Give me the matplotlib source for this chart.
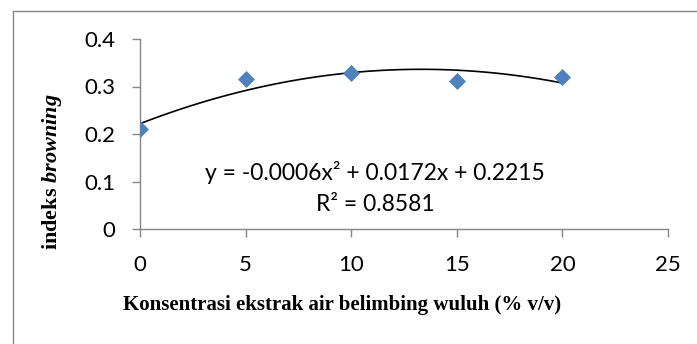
import numpy as np
import matplotlib
matplotlib.use('Agg')
from matplotlib import pyplot as plt
from matplotlib.lines import Line2D

# data
konsentrasi = [0, 5, 10, 15, 20]
indeks = [0.21, 0.315, 0.329, 0.311, 0.319]
x_ticks = [0, 5, 10, 15, 20, 25]
y_ticks = [0, 0.1, 0.2, 0.3, 0.4]
y_tick_labels = ['0', '0.1', '0.2', '0.3', '0.4']
equation = 'y = -0.0006x² + 0.0172x + 0.2215'
r_squared = 'R² = 0.8581'

plt.rcParams['mathtext.fontset'] = 'custom'
plt.rcParams['mathtext.rm'] = 'Liberation Serif:bold'
plt.rcParams['mathtext.it'] = 'Liberation Serif:bold:italic'

fig = plt.figure(figsize=(6.97, 3.44), dpi=100)
ax = fig.add_axes([140/697, 1 - 229/344, 528/697, 190/344])

ax.scatter(konsentrasi, indeks, marker='D', s=75, color='#4F81BD', zorder=3, linewidths=0)

# polynomial trendline (order 2)
coef = np.polyfit(konsentrasi, indeks, 2)
xs = np.linspace(0, 20, 100)
ax.plot(xs, np.polyval(coef, xs), color='black', lw=1.2, zorder=2)

ax.set_xlim(0, 25)
ax.set_ylim(0, 0.4)
ax.set_xticks(x_ticks)
ax.set_yticks(y_ticks)
ax.set_yticklabels(y_tick_labels)

for s in ['top', 'right']:
    ax.spines[s].set_visible(False)
for s in ['left', 'bottom']:
    ax.spines[s].set_color('#868686')
    ax.spines[s].set_linewidth(1)

ax.tick_params(axis='both', color='#868686', length=6, width=1, labelsize=16, labelcolor='black')
ax.tick_params(axis='x', pad=13)
ax.tick_params(axis='y', pad=12)
for lab in ax.get_xticklabels() + ax.get_yticklabels():
    lab.set_family('Lato')

ax.set_xlabel('Konsentrasi ekstrak air belimbing wuluh (% v/v)', family='Liberation Serif',
              fontweight='bold', fontsize=15, va='center')
ax.xaxis.set_label_coords(0.383, -0.40)
ax.set_ylabel('indeks $\\mathit{browning}$', family='Liberation Serif',
              fontweight='bold', fontsize=16, va='center')
ax.yaxis.set_label_coords(-0.1667, 0.303)

ax.text(0.445, 0.295, equation, transform=ax.transAxes, ha='center', va='center',
        family='Lato', fontsize=16.5)
ax.text(0.445, 0.127, r_squared, transform=ax.transAxes, ha='center', va='center',
        family='Lato', fontsize=16.5)

# chart area border (cropped at right and bottom)
fig.add_artist(Line2D([12.5/697, 12.5/697], [0, 1 - 10.5/344], transform=fig.transFigure,
                      color='#888888', lw=1))
fig.add_artist(Line2D([12.5/697, 1], [1 - 10.5/344, 1 - 10.5/344], transform=fig.transFigure,
                      color='#888888', lw=1))

plt.savefig('out.png', dpi=100)
